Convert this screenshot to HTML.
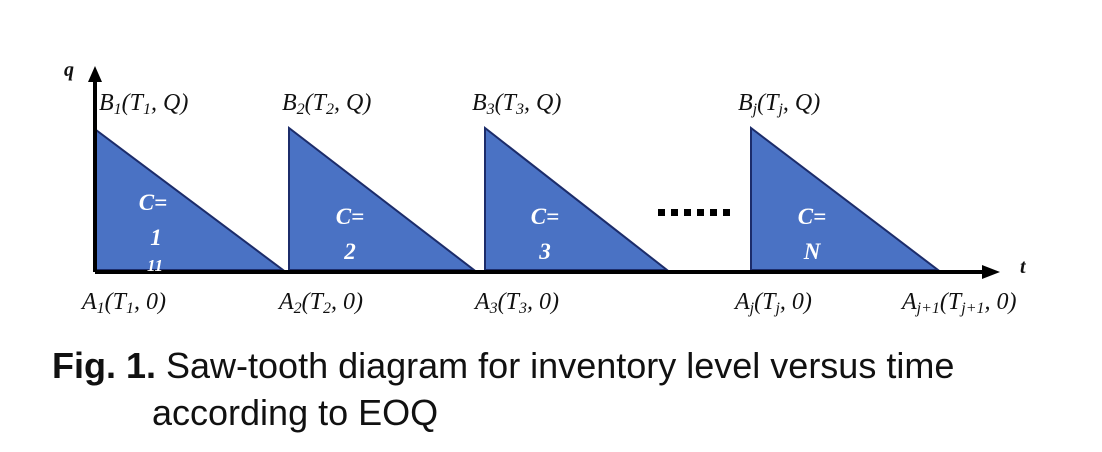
<!DOCTYPE html>
<html><head><meta charset="utf-8"><style>
body{margin:0;background:#fff;width:1102px;height:452px;overflow:hidden;position:relative}
svg{position:absolute;left:0;top:0}
.cap{position:absolute;font-family:"Liberation Sans",sans-serif;font-size:36px;color:#111;white-space:nowrap;line-height:40px}
</style></head><body>
<svg width="1102" height="452" font-family="Liberation Serif, serif" font-style="italic" font-size="24" fill="#111">
<g fill="#4a72c4" stroke="#1c2c6a" stroke-width="2">
<polygon points="96,130 96,270 283,270"/>
<polygon points="289,128 289,270 474,270"/>
<polygon points="485,128 485,270 667,270"/>
<polygon points="751,128 751,270 938,270"/>
</g>
<line x1="95" y1="272" x2="985" y2="272" stroke="#000" stroke-width="4"/>
<polygon points="1000,272 982,265 982,279" fill="#000"/>
<line x1="95" y1="272" x2="95" y2="80" stroke="#000" stroke-width="4"/>
<polygon points="95,66 88,82 102,82" fill="#000"/>
<g fill="#000"><rect x="658" y="209" width="7" height="7"/><rect x="671" y="209" width="7" height="7"/><rect x="684" y="209" width="7" height="7"/><rect x="697" y="209" width="7" height="7"/><rect x="710" y="209" width="7" height="7"/><rect x="723" y="209" width="7" height="7"/></g>
<text x="64" y="76" font-size="20" font-weight="bold">q</text>
<text x="1020" y="273" font-size="20" font-weight="bold">t</text>
<text x="99" y="110">B<tspan font-size="16" dy="4">1</tspan><tspan dy="-4">(T</tspan><tspan font-size="16" dy="4">1</tspan><tspan dy="-4">, Q)</tspan></text>
<text x="282" y="110">B<tspan font-size="16" dy="4">2</tspan><tspan dy="-4">(T</tspan><tspan font-size="16" dy="4">2</tspan><tspan dy="-4">, Q)</tspan></text>
<text x="472" y="110">B<tspan font-size="16" dy="4">3</tspan><tspan dy="-4">(T</tspan><tspan font-size="16" dy="4">3</tspan><tspan dy="-4">, Q)</tspan></text>
<text x="738" y="110">B<tspan font-size="16" dy="4">j</tspan><tspan dy="-4">(T</tspan><tspan font-size="16" dy="4">j</tspan><tspan dy="-4">, Q)</tspan></text>
<text x="82" y="309">A<tspan font-size="16" dy="4">1</tspan><tspan dy="-4">(T</tspan><tspan font-size="16" dy="4">1</tspan><tspan dy="-4">, 0)</tspan></text>
<text x="279" y="309">A<tspan font-size="16" dy="4">2</tspan><tspan dy="-4">(T</tspan><tspan font-size="16" dy="4">2</tspan><tspan dy="-4">, 0)</tspan></text>
<text x="475" y="309">A<tspan font-size="16" dy="4">3</tspan><tspan dy="-4">(T</tspan><tspan font-size="16" dy="4">3</tspan><tspan dy="-4">, 0)</tspan></text>
<text x="735" y="309">A<tspan font-size="16" dy="4">j</tspan><tspan dy="-4">(T</tspan><tspan font-size="16" dy="4">j</tspan><tspan dy="-4">, 0)</tspan></text>
<text x="902" y="309">A<tspan font-size="16" dy="4">j+1</tspan><tspan dy="-4">(T</tspan><tspan font-size="16" dy="4">j+1</tspan><tspan dy="-4">, 0)</tspan></text>
<g fill="#fff" font-size="23" font-weight="bold" text-anchor="middle">
<text x="153" y="210">C=</text><text x="156" y="245">1</text><text x="155" y="271" font-size="17">11</text>
<text x="350" y="224">C=</text><text x="350" y="259">2</text>
<text x="545" y="224">C=</text><text x="545" y="259">3</text>
<text x="812" y="224">C=</text><text x="812" y="259">N</text>
</g>
</svg>
<div class="cap" style="left:52px;top:346px"><b>Fig. 1.</b> Saw-tooth diagram for inventory level versus time</div>
<div class="cap" style="left:152px;top:393px">according to EOQ</div>
</body></html>
